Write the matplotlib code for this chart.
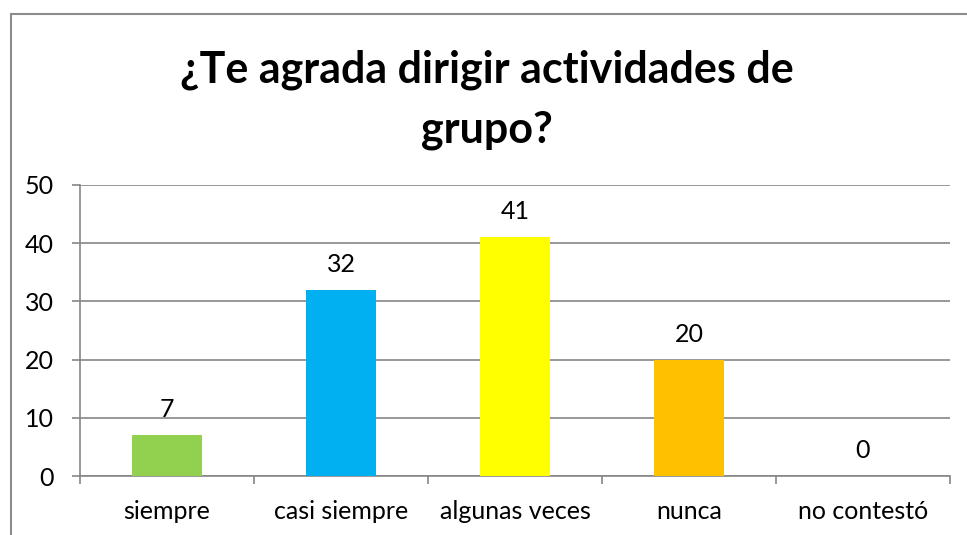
import matplotlib
matplotlib.use("Agg")
import matplotlib.pyplot as plt
from matplotlib.patches import Rectangle
import numpy as np

categories = ["siempre", "casi siempre", "algunas veces", "nunca", "no contestó"]
values = [7, 32, 41, 20, 0]
colors = ["#92D050", "#00B0F0", "#FFFF00", "#FFC000", "#C0504D"]
yticks = [0, 10, 20, 30, 40, 50]
title = "¿Te agrada dirigir actividades de\ngrupo?"

W, H = 967, 535
fig = plt.figure(figsize=(W / 100, H / 100), dpi=100)
plt.rcParams['font.family'] = ['Lato', 'DejaVu Sans']

# chart border (left and top visible)
fig.patches.append(Rectangle((10.5 / W, -0.1), 2.0, (H - 13.5) / H + 0.1,
                             transform=fig.transFigure, fill=False,
                             edgecolor="#8C8C8C", linewidth=1.5))

left, right, top, bottom = 80, 950, 185, 476
ax = fig.add_axes([left / W, (H - bottom) / H, (right - left) / W, (bottom - top) / H])

x = np.arange(len(categories))
ax.bar(x, values, width=0.4, color=colors, zorder=3)
ax.set_xlim(-0.5, len(categories) - 0.5)
ax.set_ylim(0, 50)
ax.set_yticks(yticks)
ax.yaxis.grid(True, color="#868686", linewidth=1.2, zorder=0)
ax.set_axisbelow(True)

for s in ["top", "right"]:
    ax.spines[s].set_visible(False)
for s in ["left", "bottom"]:
    ax.spines[s].set_color("#868686")
    ax.spines[s].set_linewidth(1.2)

ax.tick_params(axis="y", length=6, color="#868686", width=1.2, labelsize=18, pad=13)
ax.set_xticks(x)
ax.set_xticklabels(categories)
ax.tick_params(axis="x", which="major", length=0, labelsize=18, pad=17)
ax.set_xticks(np.arange(-0.5, len(categories)), minor=True)
ax.tick_params(axis="x", which="minor", length=6, color="#868686", width=1.2)

for xi, v in zip(x, values):
    ax.annotate(str(v), (xi, v), xytext=(0, 13), textcoords="offset points",
                ha="center", va="baseline", fontsize=18)

fig.text(487 / W, 1 - 100 / H, title, ha="center", va="center",
         fontsize=31, fontweight="bold", linespacing=1.6)

fig.savefig("out.png", dpi=100)
